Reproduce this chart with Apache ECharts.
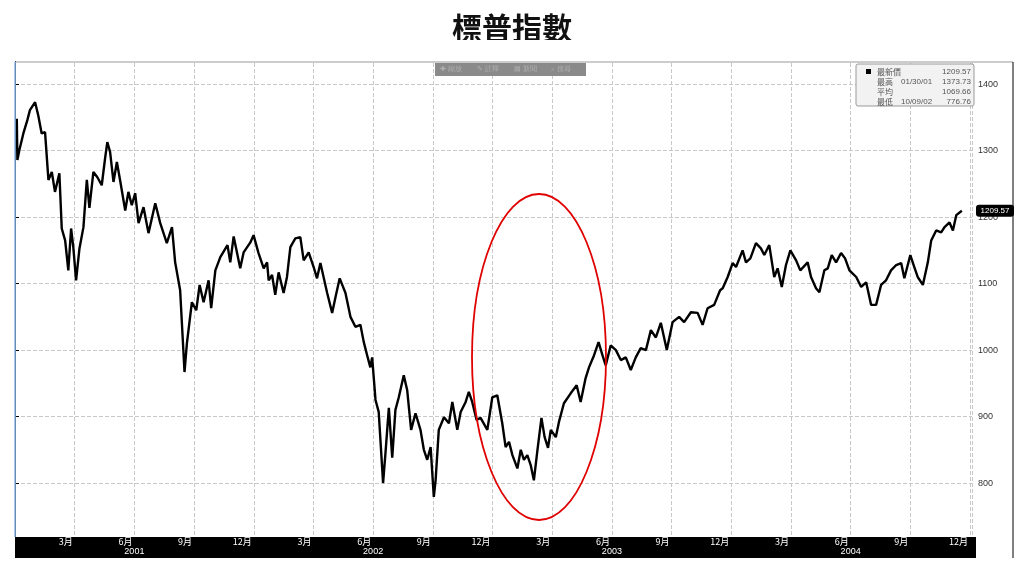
<!DOCTYPE html>
<html><head><meta charset="utf-8">
<script src="https://cdn.jsdelivr.net/npm/echarts@6/dist/echarts.min.js"></script>
<style>html,body{margin:0;padding:0;background:#fff}#c{width:1024px;height:568px}</style>
</head><body><div id="c"></div>
<script>
// x = months since 2001-01-01
const months = [0.09,0.12,0.22,0.42,0.62,0.75,1.01,1.17,1.34,1.51,1.68,1.85,2.01,2.23,2.35,2.52,2.68,2.82,2.93,3.07,3.24,3.44,3.61,3.74,3.94,4.14,4.36,4.53,4.64,4.78,4.95,5.12,5.28,5.54,5.70,5.87,6.04,6.21,6.46,6.71,7.05,7.30,7.63,7.89,8.05,8.30,8.52,8.64,8.89,9.11,9.28,9.48,9.73,9.86,10.07,10.32,10.68,10.82,10.99,11.32,11.49,11.83,11.99,12.24,12.50,12.67,12.75,12.92,13.08,13.25,13.50,13.67,13.84,14.09,14.34,14.51,14.76,15.01,15.18,15.35,15.69,15.94,16.11,16.32,16.61,16.86,17.11,17.36,17.53,17.70,17.86,17.95,18.12,18.28,18.50,18.62,18.79,18.96,19.12,19.29,19.54,19.71,19.91,20.13,20.38,20.55,20.72,20.89,21.05,21.14,21.30,21.56,21.81,21.98,22.23,22.40,22.65,22.81,22.98,23.20,23.40,23.74,23.99,24.24,24.49,24.66,24.83,25.00,25.25,25.42,25.58,25.75,25.92,26.08,26.26,26.46,26.62,26.79,26.93,27.18,27.34,27.59,27.93,28.23,28.43,28.68,28.85,29.10,29.33,29.53,29.69,29.94,30.20,30.45,30.70,30.95,31.20,31.45,31.71,31.96,32.21,32.46,32.76,33.05,33.38,33.63,33.97,34.31,34.56,34.81,35.14,35.44,35.57,35.82,36.07,36.24,36.57,36.74,36.96,37.24,37.49,37.66,37.91,38.16,38.33,38.54,38.75,38.97,39.26,39.47,39.84,40.01,40.26,40.43,40.68,40.85,41.05,41.27,41.52,41.72,41.94,42.28,42.53,42.78,43.03,43.28,43.53,43.78,44.03,44.29,44.54,44.70,45.00,45.20,45.37,45.63,45.88,46.05,46.30,46.55,46.72,46.97,47.14,47.31,47.59];
const values = [1348,1286,1301,1326,1346,1361,1373,1353,1326,1328,1256,1268,1238,1266,1183,1165,1120,1183,1155,1105,1153,1185,1256,1214,1268,1260,1248,1289,1313,1298,1253,1283,1256,1210,1238,1218,1236,1191,1215,1176,1221,1191,1161,1185,1132,1090,967,1010,1072,1060,1098,1072,1105,1063,1120,1140,1158,1132,1171,1123,1147,1162,1173,1146,1123,1132,1105,1113,1083,1117,1086,1110,1155,1168,1170,1135,1147,1125,1108,1131,1086,1056,1080,1108,1086,1050,1035,1038,1012,992,974,989,925,907,800,845,913,838,910,929,962,940,880,905,880,850,835,854,779,804,880,899,890,922,880,907,922,937,922,895,898,880,929,932,890,854,862,842,822,850,835,842,827,804,850,898,869,853,880,869,892,920,935,947,922,958,974,992,1012,992,977,1007,1000,985,989,970,989,1003,1000,1030,1019,1041,1000,1042,1050,1042,1057,1056,1038,1063,1068,1090,1093,1110,1131,1125,1150,1132,1138,1161,1153,1143,1158,1110,1123,1095,1128,1150,1135,1120,1132,1110,1093,1087,1120,1123,1143,1132,1146,1138,1120,1110,1095,1102,1068,1068,1098,1105,1120,1128,1131,1108,1143,1125,1110,1098,1132,1165,1180,1177,1185,1192,1180,1203,1209.57];
const yearLabels = ['2001','2002','2003','2004'];
const yearPos = [6,18,30,42];
const monthTicks = [3,6,9,12,15,18,21,24,27,30,33,36,39,42,45,48];
const monthLabels = ['3月','6月','9月','12月','3月','6月','9月','12月','3月','6月','9月','12月','3月','6月','9月','12月'];
const legendRows = [['最新價','','1209.57'],['最高','01/30/01','1373.73'],['平均','','1069.66'],['最低','10/09/02','776.76']];
const lastValue = 1209.57;

const chart = echarts.init(document.getElementById('c'));
const data = months.map((m,i)=>[m,values[i]]);
chart.setOption({
  animation:false,
  title:{text:'標普指數',left:'center',top:8,textStyle:{fontSize:30,fontWeight:'bold',color:'#111',fontFamily:'Noto Sans CJK TC'}},
  grid:{left:15,right:52,top:51,bottom:18.5},
  xAxis:{type:'value',min:0,max:48.1,interval:3,
    axisLine:{show:false},axisTick:{show:false},axisLabel:{show:false},
    splitLine:{show:true,lineStyle:{color:'#c8c8c8',type:'dashed'}}},
  yAxis:{type:'value',position:'right',min:700,max:1450,interval:100,
    axisLine:{show:true,lineStyle:{color:'#000'}},axisTick:{show:true,length:4,lineStyle:{color:'#000'}},
    splitLine:{show:true,lineStyle:{color:'#c8c8c8',type:'dashed'}},
    axisLabel:{color:'#333',fontSize:9,margin:6,formatter:v=>(v>=800&&v<=1400)?String(v):''}},
  series:[{type:'line',data:data,showSymbol:false,lineStyle:{color:'#000',width:2.4}}]
});
const g=[];
g.push({type:'rect',shape:{x:15,y:40,width:958,height:21},style:{fill:'#fff'},z:100});
g.push({type:'line',shape:{x1:15,y1:62,x2:1013,y2:62},style:{stroke:'#999',lineWidth:1},z:101});
g.push({type:'line',shape:{x1:15,y1:62,x2:15,y2:537},style:{stroke:'#8ab8e8',lineWidth:1.5},z:101});
g.push({type:'line',shape:{x1:1013,y1:62,x2:1013,y2:558},style:{stroke:'#000',lineWidth:1},z:101});
g.push({type:'rect',shape:{x:15,y:537,width:961,height:21},style:{fill:'#000'},z:101});
monthTicks.forEach((m,i)=>{const p=chart.convertToPixel({xAxisIndex:0},m);
  g.push({type:'text',x:p-2,y:542,style:{text:monthLabels[i],fill:'#fff',fontSize:9,align:'right',verticalAlign:'middle',fontFamily:'Noto Sans CJK TC'},z:102});});
yearLabels.forEach((t,i)=>{const p=chart.convertToPixel({xAxisIndex:0},yearPos[i]);
  g.push({type:'text',x:p,y:552,style:{text:t,fill:'#fff',fontSize:9,align:'center',verticalAlign:'middle'},z:102});});
const ly=chart.convertToPixel({yAxisIndex:0},lastValue);
g.push({type:'rect',shape:{x:976,y:ly-6,width:38,height:12,r:3},style:{fill:'#000'},z:102});
g.push({type:'text',x:995,y:ly,style:{text:String(lastValue),fill:'#fff',fontSize:8,align:'center',verticalAlign:'middle'},z:103});
g.push({type:'rect',shape:{x:435,y:63,width:151,height:13},style:{fill:'#8a8a8a'},z:101});
['✚ 縮放','✎ 註釋','▤ 新聞','⌕ 搜尋'].forEach((t,i)=>g.push({type:'text',x:440+i*37,y:69.5,style:{text:t,fill:'#b0b0b0',fontSize:7,verticalAlign:'middle'},z:102}));
g.push({type:'rect',shape:{x:856,y:64,width:118,height:42,r:2},style:{fill:'#f2f2f2',stroke:'#999',lineWidth:1},z:101});
g.push({type:'rect',shape:{x:866,y:69,width:5,height:5},style:{fill:'#000'},z:102});
legendRows.forEach((r,i)=>{const y=71.5+i*10;
  g.push({type:'text',x:877,y:y,style:{text:r[0],fill:'#555',fontSize:8,verticalAlign:'middle',fontFamily:'Noto Sans CJK TC'},z:102});
  g.push({type:'text',x:901,y:y,style:{text:r[1],fill:'#555',fontSize:8,verticalAlign:'middle'},z:102});
  g.push({type:'text',x:971,y:y,style:{text:r[2],fill:'#555',fontSize:8,align:'right',verticalAlign:'middle'},z:102});});
g.push({type:'ellipse',shape:{cx:539,cy:357,rx:67,ry:163},style:{fill:'none',stroke:'#e00000',lineWidth:1.8},z:103});
chart.setOption({graphic:g});
</script></body></html>
